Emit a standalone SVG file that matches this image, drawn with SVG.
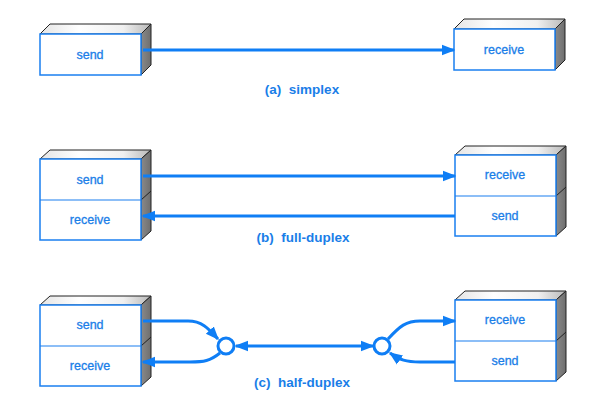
<svg xmlns="http://www.w3.org/2000/svg" width="606" height="412" viewBox="0 0 606 412">
  <defs>
    <linearGradient id="topFace" x1="0" y1="0" x2="1" y2="0">
      <stop offset="0" stop-color="#e4e4e4"/>
      <stop offset="0.35" stop-color="#ffffff"/>
      <stop offset="0.75" stop-color="#f0f0f0"/>
      <stop offset="1" stop-color="#b8b8b8"/>
    </linearGradient>
    <linearGradient id="sideFace" x1="0" y1="0" x2="1" y2="0">
      <stop offset="0" stop-color="#8a8a8a"/>
      <stop offset="1" stop-color="#6e6e6e"/>
    </linearGradient>
    <marker id="arrow" viewBox="0 0 10 10" refX="9" refY="5" markerWidth="4.5" markerHeight="4.5" orient="auto-start-reverse" markerUnits="strokeWidth">
      <path d="M0,1 L10,5 L0,9 z" fill="#0f7ef5"/>
    </marker>
    <!-- one-cell 3D block: front 101x41, depth offset (10,-10) -->
    <g id="block1">
      <path d="M0,0 L10,-10 L111,-10 L101,0 z" fill="url(#topFace)" stroke="#222" stroke-width="1"/>
      <path d="M101,0 L111,-10 L111,31 L101,41 z" fill="url(#sideFace)" stroke="#222" stroke-width="1"/>
      <rect x="0" y="0" width="101" height="41" fill="#fff" stroke="#1a7ff0" stroke-width="1.5"/>
    </g>
    <!-- two-cell 3D block -->
    <g id="block2">
      <path d="M0,0 L10,-9 L111,-9 L101,0 z" fill="url(#topFace)" stroke="#222" stroke-width="1"/>
      <path d="M101,0 L111,-9 L111,72 L101,81 z" fill="url(#sideFace)" stroke="#222" stroke-width="1"/>
      <line x1="101" y1="41" x2="111" y2="32" stroke="#222" stroke-width="1"/>
      <rect x="0" y="0" width="101" height="81" fill="#fff" stroke="#1a7ff0" stroke-width="1.5"/>
      <line x1="0" y1="41" x2="101" y2="41" stroke="#1a7ff0" stroke-width="1.2"/>
    </g>
  </defs>
  <style>
    .box { font-family: "Liberation Sans", Arial, sans-serif; font-size: 12.5px; fill: #1a7ee8; stroke: #1a7ee8; stroke-width: 0.3; text-anchor: middle; }
    .cap { font-family: "Liberation Sans", Arial, sans-serif; font-size: 13.5px; font-weight: bold; fill: #1a7ee8; text-anchor: middle; white-space: pre; }
    .wire { fill: none; stroke: #0f7ef5; stroke-width: 3; }
    .join { fill: #fff; stroke: #0f7ef5; stroke-width: 3; }
  </style>
  <rect width="606" height="412" fill="#fff"/>

  <!-- (a) simplex -->
  <g id="simplex-send">
    <use href="#block1" x="40" y="34"/>
    <text class="box" x="90" y="59">send</text>
  </g>
  <g id="simplex-receive">
    <use href="#block1" x="454" y="29"/>
    <text class="box" x="504" y="54">receive</text>
  </g>
  <text class="cap" x="302" y="94" xml:space="preserve">(a)  simplex</text>

  <!-- (b) full-duplex -->
  <g id="full-left">
    <use href="#block2" x="40" y="159"/>
    <text class="box" x="90" y="184">send</text>
    <text class="box" x="90" y="224">receive</text>
  </g>
  <g id="full-right">
    <use href="#block2" x="455" y="155"/>
    <text class="box" x="505" y="179">receive</text>
    <text class="box" x="505" y="220">send</text>
  </g>
  <text class="cap" x="303" y="242" xml:space="preserve">(b)  full-duplex</text>

  <!-- (c) half-duplex -->
  <g id="half-left">
    <use href="#block2" x="40" y="305"/>
    <text class="box" x="90" y="329">send</text>
    <text class="box" x="90" y="370">receive</text>
  </g>
  <g id="half-right">
    <use href="#block2" x="455" y="300"/>
    <text class="box" x="505" y="324">receive</text>
    <text class="box" x="505" y="365">send</text>
  </g>
  <text class="cap" x="302" y="387" xml:space="preserve">(c)  half-duplex</text>

  <!-- connectors -->
  <g id="connectors">
    <line class="wire" x1="143" y1="50" x2="454" y2="50" marker-end="url(#arrow)"/>
    <line class="wire" x1="143" y1="176" x2="455" y2="176" marker-end="url(#arrow)"/>
    <line class="wire" x1="455" y1="216" x2="143" y2="216" marker-end="url(#arrow)"/>

    <path class="wire" d="M143,321 L188,321 C202,321 208,328 218,339" marker-end="url(#arrow)"/>
    <path class="wire" d="M220,353 C210,361 204,362 190,362 L143,362" marker-end="url(#arrow)"/>
    <line class="wire" x1="236" y1="346" x2="373" y2="346" marker-start="url(#arrow)" marker-end="url(#arrow)"/>
    <path class="wire" d="M388,339 C400,326 406,321 420,321 L455,321" marker-end="url(#arrow)"/>
    <path class="wire" d="M455,362 L420,362 C406,362 400,360 390,353" marker-end="url(#arrow)"/>

    <circle class="join" cx="226" cy="346" r="8"/>
    <circle class="join" cx="382" cy="346" r="8"/>
  </g>
</svg>
